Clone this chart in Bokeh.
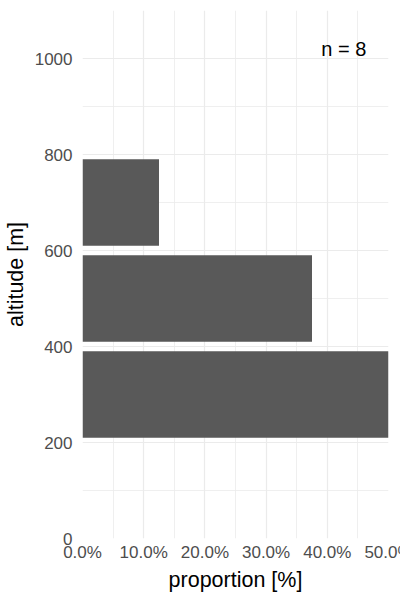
from bokeh.plotting import figure
from bokeh.models import Range1d, FixedTicker, NumeralTickFormatter, ColumnDataSource, Label
from bokeh.embed import file_html
from bokeh.resources import INLINE

# data
bin_lower = [200, 400, 600]
bin_upper = [400, 600, 800]
proportion = [0.50, 0.375, 0.125]
n_obs = 8
x_ticks = [0.0, 0.1, 0.2, 0.3, 0.4, 0.5]
x_minor = [0.05, 0.15, 0.25, 0.35, 0.45]
y_ticks = [0, 200, 400, 600, 800, 1000]
y_minor = [100, 300, 500, 700, 900, 1100]

centers = [(a + b) / 2 for a, b in zip(bin_lower, bin_upper)]
heights = [(b - a) * 0.9 for a, b in zip(bin_lower, bin_upper)]
src = ColumnDataSource(dict(y=centers, h=heights, right=proportion))

FONT = "Liberation Sans"

p = figure(frame_width=306, frame_height=528, output_backend="svg", toolbar_location=None,
           x_range=Range1d(0, 0.5), y_range=Range1d(0, 1100),
           min_border_left=75, min_border_right=26, min_border_top=10, min_border_bottom=52)
p.outline_line_color = None
p.background_fill_color = "white"
p.border_fill_color = "white"

p.hbar(y="y", height="h", left=0, right="right", source=src,
       fill_color="#595959", line_color=None)

p.xaxis.ticker = FixedTicker(ticks=x_ticks, minor_ticks=x_minor)
p.yaxis.ticker = FixedTicker(ticks=y_ticks, minor_ticks=y_minor)
p.xaxis.formatter = NumeralTickFormatter(format="0.0%")

for ax in (p.xaxis[0], p.yaxis[0]):
    ax.axis_line_color = None
    ax.major_tick_line_color = None
    ax.minor_tick_line_color = None
    ax.major_tick_in = 0
    ax.major_tick_out = 0
    ax.minor_tick_in = 0
    ax.minor_tick_out = 0
    ax.major_label_text_font = FONT
    ax.major_label_text_font_size = "17px"
    ax.major_label_text_color = "#4d4d4d"
    ax.axis_label_text_font = FONT
    ax.axis_label_text_font_size = "21.5px"
    ax.axis_label_text_font_style = "normal"
    ax.axis_label_text_color = "black"

p.xaxis.axis_label = "proportion [%]"
p.yaxis.axis_label = "altitude [m]"
p.xaxis.major_label_standoff = 4
p.yaxis.major_label_standoff = 10
p.xaxis.axis_label_standoff = 3
p.yaxis.axis_label_standoff = 4

p.xgrid.grid_line_color = "#ebebeb"
p.ygrid.grid_line_color = "#ebebeb"
p.xgrid.grid_line_width = 1.2
p.ygrid.grid_line_width = 1.2
p.xgrid.minor_grid_line_color = "#ebebeb"
p.ygrid.minor_grid_line_color = "#ebebeb"
p.xgrid.minor_grid_line_width = 0.8
p.ygrid.minor_grid_line_width = 0.8

p.add_layout(Label(x=0.427, y=1020, text=f"n = {n_obs}", text_align="center",
                   text_baseline="middle", text_font=FONT, text_font_size="20px",
                   text_color="black"))

open("out.html", "w").write(file_html(p, INLINE))
